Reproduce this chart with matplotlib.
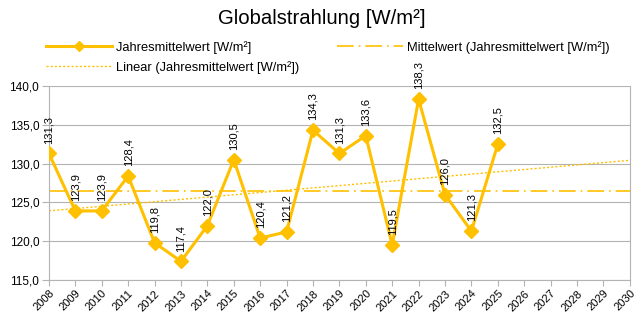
import matplotlib
matplotlib.use("Agg")
import matplotlib.pyplot as plt
import numpy as np
from matplotlib.lines import Line2D

years = [2008, 2009, 2010, 2011, 2012, 2013, 2014, 2015, 2016, 2017, 2018, 2019, 2020, 2021, 2022, 2023, 2024, 2025]
values = [131.3, 123.9, 123.9, 128.4, 119.8, 117.4, 122.0, 130.5, 120.4, 121.2, 134.3, 131.3, 133.6, 119.5, 138.3, 126.0, 121.3, 132.5]
axis_years = list(range(2008, 2031))
yticks = [115, 120, 125, 130, 135, 140]

color = "#FFC000"
plt.rcParams['font.family'] = ['Liberation Sans', 'DejaVu Sans']

fig = plt.figure(figsize=(6.44, 3.30), dpi=100)
ax = fig.add_axes([0.076, 0.1515, 0.902, 0.588])

x = np.array(years, dtype=float)
y = np.array(values)
ax.plot(x, y, color=color, lw=2.2, marker='D', ms=7, zorder=3)

mean = y.mean()
ax.plot([axis_years[0], axis_years[-1]], [mean, mean], color=color, lw=1.2,
        dashes=[10, 3, 1, 3], zorder=2)

slope, inter = np.polyfit(x, y, 1)
xt = np.array([axis_years[0], axis_years[-1]], dtype=float)
ax.plot(xt, slope * xt + inter, color=color, lw=1.0, ls=(0, (1.5, 1.5)), zorder=2)

for xi, yi in zip(x, y):
    ax.annotate(f"{yi:.1f}".replace('.', ','), (xi, yi), xytext=(0, 7),
                textcoords='offset points', rotation=90, ha='center', va='bottom',
                fontsize=8, color='black')

ax.set_xlim(axis_years[0], axis_years[-1])
ax.set_ylim(115, 140)
ax.set_xticks(axis_years)
ax.set_xticklabels([str(a) for a in axis_years], rotation=45, ha='right',
                   rotation_mode='anchor', fontsize=8)
ax.set_yticks(yticks)
ax.set_yticklabels([f"{t:.1f}".replace('.', ',') for t in yticks], fontsize=8.5)
ax.tick_params(axis='x', length=4, color='#b3b3b3', direction='out', pad=2)
ax.tick_params(axis='y', length=5, color='#b3b3b3', direction='out', pad=2)
ax.grid(axis='y', color='#b3b3b3', lw=0.8)
ax.set_axisbelow(True)
for s in ['left', 'bottom', 'right']:
    ax.spines[s].set_color('#b3b3b3')
ax.spines['top'].set_visible(False)

fig.text(0.5, 0.945, "Globalstrahlung [W/m²]", ha='center', va='center', fontsize=14.6)

h1 = Line2D([], [], color=color, lw=2.2, marker='D', ms=5)
h2 = Line2D([], [], color=color, lw=1.2, dashes=[10, 3, 1, 3])
h3 = Line2D([], [], color=color, lw=1.0, ls=(0, (1.5, 1.5)))
fig.legend([h1, h3, h2],
           ["Jahresmittelwert [W/m²]", "Linear (Jahresmittelwert [W/m²])",
            "Mittelwert (Jahresmittelwert [W/m²])"],
           ncol=2, loc='upper left', bbox_to_anchor=(0.062, 0.895), frameon=False,
           fontsize=9.3, handlelength=5.1, columnspacing=2.9, labelspacing=0.55,
           handletextpad=0.3, borderpad=0)

fig.savefig("out.png", dpi=100)
